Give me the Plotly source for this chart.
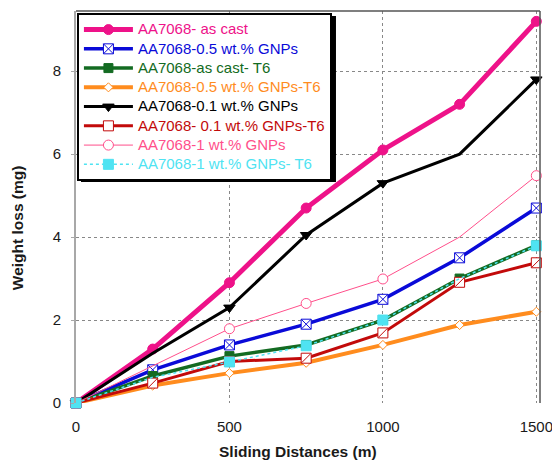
import plotly.graph_objects as go

distance = [0, 250, 500, 750, 1000, 1250, 1500]
as_cast = [0, 1.3, 2.9, 4.7, 6.1, 7.2, 9.2]
gnp05 = [0, 0.8, 1.4, 1.9, 2.5, 3.5, 4.7]
as_cast_t6 = [0, 0.65, 1.13, 1.4, 2.0, 3.0, 3.8]
gnp05_t6 = [0, 0.42, 0.72, 0.97, 1.4, 1.88, 2.2]
gnp01 = [0, 1.2, 2.3, 4.05, 5.3, 6.0, 7.8]
gnp01_t6 = [0, 0.48, 1.0, 1.08, 1.69, 2.91, 3.38]
gnp1 = [0, 0.9, 1.79, 2.4, 2.99, 4.0, 5.48]
gnp1_t6 = [0, 0.62, 0.99, 1.38, 2.0, 3.0, 3.79]

x_ticks = [0, 500, 1000, 1500]
y_ticks = [0, 2, 4, 6, 8]

names = [
    "AA7068- as cast",
    "AA7068-0.5 wt.% GNPs",
    "AA7068-as cast- T6",
    "AA7068-0.5 wt.% GNPs-T6",
    "AA7068-0.1 wt.% GNPs",
    "AA7068- 0.1 wt.% GNPs-T6",
    "AA7068-1 wt.% GNPs",
    "AA7068-1 wt.% GNPs- T6",
]

FONT = "Liberation Sans, Arial, sans-serif"
TXT = "#1a1a1a"
T = "rgba(0,0,0,0)"


def label(name, color):
    return f'<span style="color:{color};font-size:15px">{name}</span>'


def pick(color, skip):
    return [T if i in skip else color for i in range(len(distance))]


fig = go.Figure()

series = [
    # values, color, width, dash, symbol, fill, size, skip-indices
    (as_cast, "#ee1289", 5, "solid", "circle", None, 10, set()),
    (gnp05, "#0a0ad8", 3.5, "solid", "square-x", "white", 10, set()),
    (as_cast_t6, "#136b22", 3.5, "solid", "square", None, 9, set()),
    (gnp05_t6, "#ff8c1e", 4, "solid", "diamond", "white", 7, set()),
    (gnp01, "#000000", 3, "solid", "triangle-down", None, 10, {1, 5}),
    (gnp01_t6, "#c20a0a", 3, "solid", "square", "white", 10, set()),
    (gnp1, "#ff4f8b", 1, "solid", "circle", "white", 10, {1, 5}),
    (gnp1_t6, "#4fe3f2", 1.5, "dot", "square", None, 10, {1, 5}),
]

for (vals, color, width, dash, symbol, fill, size, skip), name in zip(series, names):
    fillc = fill if fill else color
    fig.add_trace(go.Scatter(
        x=distance, y=vals, name=label(name, color), mode="lines+markers",
        line=dict(color=color, width=width, dash=dash),
        marker=dict(symbol=symbol, size=size, color=pick(fillc, skip),
                    line=dict(color=pick(color, skip), width=1)),
        cliponaxis=False,
    ))
    if name == "AA7068- 0.1 wt.% GNPs-T6":
        fig.add_trace(go.Scatter(
            x=distance, y=vals, mode="markers", showlegend=False, hoverinfo="skip",
            marker=dict(symbol="line-ne", size=9, line=dict(color=color, width=1)),
            cliponaxis=False,
        ))

fig.add_shape(type="line", xref="paper", yref="paper", x0=0, x1=1, y0=1, y1=1,
              line=dict(color="#555555", width=1.5))
fig.add_shape(type="line", xref="paper", yref="paper", x0=1, x1=1, y0=0, y1=1,
              line=dict(color="#555555", width=1.5))
# legend shadow
fig.add_shape(type="rect", xref="paper", yref="paper",
              x0=0.0108, x1=0.5603, y0=0.5638, y1=0.987,
              fillcolor="black", line=dict(width=0), layer="above")

fig.add_annotation(text="<b>Weight loss (mg)</b>", textangle=-90,
                   xref="paper", yref="paper", x=0, y=0.446, xshift=-59,
                   xanchor="center", yanchor="middle",
                   showarrow=False, font=dict(family=FONT, size=15.5, color=TXT))
fig.add_annotation(text="<b>Sliding Distances (m)</b>",
                   xref="paper", yref="paper", x=0.478, y=0, yshift=-48,
                   xanchor="center", yanchor="middle",
                   showarrow=False, font=dict(family=FONT, size=15.5, color=TXT))

fig.update_layout(
    width=552, height=460,
    margin=dict(l=76, r=12, t=11, b=57),
    paper_bgcolor="white", plot_bgcolor="white",
    font=dict(family=FONT, size=15, color=TXT),
    showlegend=True,
    legend=dict(x=0.002, y=0.995, xanchor="left", yanchor="top",
                bgcolor="white", bordercolor="black", borderwidth=2,
                itemwidth=49,
                font=dict(family=FONT, size=12.5), tracegroupgap=0),
    xaxis=dict(range=[0, 1512], tickvals=x_ticks, automargin=False,
               showgrid=True, gridcolor="#888888", griddash="dot", gridwidth=1,
               zeroline=False, showline=False, ticks="", ticklabelstandoff=13,
               ticklabeloverflow="allow",
               tickfont=dict(family=FONT, size=15, color=TXT)),
    yaxis=dict(range=[0, 9.45], tickvals=y_ticks, automargin=False,
               showgrid=True, gridcolor="#888888", griddash="dot", gridwidth=1,
               zeroline=False, showline=True, linecolor="#a8a8a8", linewidth=2,
               ticks="outside", ticklen=3, tickcolor="#a8a8a8", ticklabelstandoff=7,
               tickfont=dict(family=FONT, size=15, color=TXT)),
)

fig.write_html("out.html", config={"displayModeBar": False},
               post_script="document.body.style.margin='0';")
